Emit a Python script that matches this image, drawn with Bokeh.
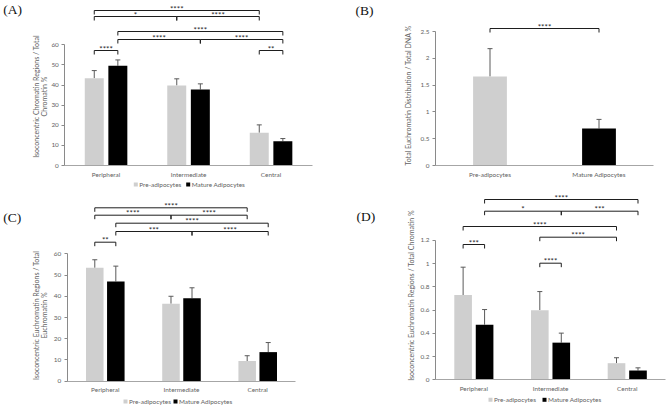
import math

from bokeh.core.properties import value
from bokeh.embed import file_html
from bokeh.layouts import column, row
from bokeh.models import (ColumnDataSource, FixedTicker, Label, PrintfTickFormatter,
                          Range1d, TeeHead, Whisker)
from bokeh.plotting import figure
from bokeh.resources import INLINE

# ---------------------------------------------------------------- data
regions = ["Peripheral", "Intermediate", "Central"]
cell_types = ["Pre-adipocytes", "Mature Adipocytes"]

# (A) isoconcentric chromatin regions / total chromatin (%)
a_pre = [43.4, 39.8, 16.3]
a_pre_err = [3.8, 3.3, 3.9]
a_mature = [49.6, 37.8, 12.1]
a_mature_err = [2.9, 2.8, 1.3]

# (B) total euchromatin distribution / total DNA (%)
b_mean = [1.66, 0.69]
b_err = [0.52, 0.17]

# (C) isoconcentric euchromatin regions / total euchromatin (%)
c_pre = [53.4, 36.5, 9.5]
c_pre_err = [3.8, 3.5, 2.5]
c_mature = [47.0, 39.1, 13.7]
c_mature_err = [7.2, 4.9, 4.5]

# (D) isoconcentric euchromatin regions / total chromatin (%)
d_pre = [0.73, 0.60, 0.143]
d_pre_err = [0.24, 0.16, 0.047]
d_mature = [0.475, 0.32, 0.08]
d_mature_err = [0.13, 0.082, 0.023]

# significance comparisons: (bar i, bar j, stars)
# bars are numbered region by region: 0 Peripheral pre, 1 Peripheral mature,
# 2 Intermediate pre, 3 Intermediate mature, 4 Central pre, 5 Central mature
a_sig = [(0, 4, "****"), (0, 2, "*"), (2, 4, "****"), (1, 5, "****"),
         (1, 3, "****"), (3, 5, "****"), (0, 1, "****"), (4, 5, "**")]
b_sig = [(0, 1, "****")]
c_sig = [(0, 4, "****"), (0, 2, "****"), (2, 4, "****"), (1, 5, "****"),
         (1, 3, "***"), (3, 5, "****"), (0, 1, "**")]
d_sig = [(1, 5, "****"), (1, 3, "*"), (3, 5, "***"), (0, 4, "****"),
         (2, 4, "****"), (0, 1, "***"), (2, 3, "****")]

# ---------------------------------------------------------------- layout (page pixels)
# bracket rows, as page y of each bracket's horizontal line
a_rows = [10, 16, 16, 31, 39, 39, 50, 50]
b_rows = [28]
c_rows = [207.3, 214.7, 214.7, 222.7, 231, 231, 241.7]
d_rows = [199, 210.7, 210.7, 226, 236.7, 244, 262.7]

FONT = "Lato"
TXT = "#626262"
PRE_COLOR = "#cfcfcf"
MAT_COLOR = "#000000"
ERR_COLOR = "#5a5a5a"
FS = "6.4px"


class Panel:
    """One chart cell: page box, position of the value axis and the scales."""

    def __init__(self, box, axis_x, zero_y, px_cat, px_unit, n_cat, y_max, yticks, fmt=None):
        self.x0, self.y0, self.w, self.h = box
        self.axis_x, self.zero_y = axis_x, zero_y
        self.px_cat, self.px_unit = px_cat, px_unit
        x_start, x_end = self.dx(self.x0), self.dx(self.x0 + self.w)
        y_start, y_end = self.dy(self.y0 + self.h), self.dy(self.y0)
        p = figure(width=self.w, height=self.h,
                   x_range=Range1d(x_start, x_end), y_range=Range1d(y_start, y_end),
                   output_backend="svg", toolbar_location=None,
                   min_border_left=0, min_border_right=0,
                   min_border_top=0, min_border_bottom=0)
        p.title.visible = False
        p.outline_line_color = None
        p.xgrid.visible = False
        p.ygrid.visible = False

        ya = p.yaxis[0]
        ya.fixed_location = -0.5
        ya.ticker = FixedTicker(ticks=yticks)
        ya.bounds = (0, y_max)
        ya.axis_line_color = "#8a8a8a"
        ya.major_tick_line_color = "#8a8a8a"
        ya.major_tick_out = 3
        ya.major_tick_in = 0
        ya.minor_tick_out = 0
        ya.minor_tick_in = 0
        ya.major_label_standoff = 3
        ya.major_label_text_font = FONT
        ya.major_label_text_font_size = FS
        ya.major_label_text_color = TXT
        if fmt is not None:
            ya.formatter = fmt

        xa = p.xaxis[0]
        xa.fixed_location = 0
        xa.ticker = FixedTicker(ticks=list(range(n_cat)))
        xa.bounds = (-0.5, n_cat - 0.5)
        xa.axis_line_color = "#a6a6a6"
        xa.major_tick_line_color = None
        xa.major_tick_out = 0
        xa.major_tick_in = 0
        xa.minor_tick_out = 0
        xa.minor_tick_in = 0
        xa.major_label_standoff = 5
        xa.major_label_text_font = FONT
        xa.major_label_text_font_size = FS
        xa.major_label_text_color = TXT
        self.p = p

    # page pixel -> data
    def dx(self, px):
        return (px - self.axis_x) / self.px_cat - 0.5

    def dy(self, py):
        return (self.zero_y - py) / self.px_unit


def error_bars(p, xs, means, errs):
    src = ColumnDataSource(dict(x=xs, lower=means,
                                upper=[m + e for m, e in zip(means, errs)]))
    p.add_layout(Whisker(source=src, base="x", lower="lower", upper="upper",
                         dimension="height", line_color=ERR_COLOR, line_width=1,
                         upper_head=TeeHead(size=5, line_color=ERR_COLOR, line_width=1),
                         lower_head=None))


def grouped_bars(pn, pre, pre_err, mat, mat_err, offset, width, legend_at):
    p = pn.p
    xs_pre = [i - offset for i in range(len(regions))]
    xs_mat = [i + offset for i in range(len(regions))]
    p.vbar(x=xs_pre, top=pre, width=width, fill_color=PRE_COLOR, line_color=None)
    p.vbar(x=xs_mat, top=mat, width=width, fill_color=MAT_COLOR, line_color=None)
    error_bars(p, xs_pre, pre, pre_err)
    error_bars(p, xs_mat, mat, mat_err)
    p.xaxis[0].major_label_overrides = {i: name for i, name in enumerate(regions)}

    # key below the category labels
    (sq1, sq2), ly = legend_at
    sx = [pn.dx(sq1), pn.dx(sq2)]
    sy = [pn.dy(ly)] * 2
    p.scatter(sx, sy, marker="square", size=4, fill_color=[PRE_COLOR, MAT_COLOR],
              line_color=None)
    p.text([pn.dx(sq1 + 3.5), pn.dx(sq2 + 3.5)], sy, text=cell_types, text_align="left",
           text_baseline="middle", text_font=value(FONT), text_font_size=FS,
           text_color=TXT)

    bar_x = []
    for a, b in zip(xs_pre, xs_mat):
        bar_x += [a, b]
    return bar_x


def brackets(pn, bar_x, sig, rows, drop_px=4):
    lx, ly, tx, ty, tt = [], [], [], [], []
    for (i, j, stars), ry in zip(sig, rows):
        x0, x1 = bar_x[i], bar_x[j]
        top, foot = pn.dy(ry), pn.dy(ry + drop_px)
        lx.append([x0, x0, x1, x1])
        ly.append([foot, top, top, foot])
        tx.append((x0 + x1) / 2)
        ty.append(top)
        tt.append(stars)
    pn.p.multi_line(lx, ly, line_color="#1e1e1e", line_width=1)
    pn.p.text(tx, ty, text=tt, text_align="center", text_baseline="middle",
              y_offset=-2, text_font=value(FONT), text_font_size="8px",
              text_color="#1e1e1e")


def y_title(pn, lines, xs, cy):
    for text, x in zip(lines, xs):
        pn.p.add_layout(Label(x=pn.dx(x), y=pn.dy(cy), text=text, angle=math.pi / 2,
                              text_align="center", text_baseline="middle",
                              text_font=FONT, text_font_size="7px", text_color=TXT))


def panel_tag(pn, tag, x, cy):
    pn.p.add_layout(Label(x=pn.dx(x), y=pn.dy(cy), text=tag,
                          text_align="left", text_baseline="middle",
                          text_font="Liberation Serif", text_font_size="13.5px",
                          text_color="#111111"))


# ---------------------------------------------------------------- (A)
A = Panel((0, 0, 333, 188), 64.3, 165, 82.5, 2.011, 3, 60, [0, 10, 20, 30, 40, 50, 60])
bx = grouped_bars(A, a_pre, a_pre_err, a_mature, a_mature_err, 0.143, 0.23,
                  ((135.3, 187.7), 184))
brackets(A, bx, a_sig, a_rows)
y_title(A, ["Isoconcentric Chromatin Regions / Total", "Chromatin %"], [35, 43.5], 96)
panel_tag(A, "(A)", 2.7, 8.7)

# ---------------------------------------------------------------- (B)
B = Panel((333, 0, 334, 188), 435, 165, 109, 53.6, 2, 2.5, [0, 0.5, 1, 1.5, 2, 2.5],
          PrintfTickFormatter(format="%g"))
B.p.vbar(x=[0, 1], top=b_mean, width=0.31, fill_color=[PRE_COLOR, MAT_COLOR],
         line_color=None)
error_bars(B.p, [0, 1], b_mean, b_err)
B.p.xaxis[0].major_label_overrides = {i: name for i, name in enumerate(cell_types)}
brackets(B, [0, 1], b_sig, b_rows)
y_title(B, ["Total Euchromatin Distribution / Total DNA %"], [407.5], 95)
panel_tag(B, "(B)", 355, 10)

# ---------------------------------------------------------------- (C)
C = Panel((0, 188, 333, 218), 66.7, 380.7, 76.2, 2.123, 3, 60, [0, 10, 20, 30, 40, 50, 60])
bx = grouped_bars(C, c_pre, c_pre_err, c_mature, c_mature_err, 0.138, 0.23,
                  ((125, 175), 401))
brackets(C, bx, c_sig, c_rows)
y_title(C, ["Isoconcentric Euchromatin Regions / Total", "Euchromatin %"], [35, 43.5], 315)
panel_tag(C, "(C)", 2.7, 216.7)

# ---------------------------------------------------------------- (D)
D = Panel((333, 188, 334, 218), 435, 379.3, 76.7, 116.1, 3, 1.2,
          [0, 0.2, 0.4, 0.6, 0.8, 1.0, 1.2], PrintfTickFormatter(format="%g"))
bx = grouped_bars(D, d_pre, d_pre_err, d_mature, d_mature_err, 0.14, 0.23,
                  ((490, 544), 399.3))
brackets(D, bx, d_sig, d_rows)
y_title(D, ["Isoconcentric Euchromatin Regions / Total Chromatin %"], [410.5], 295)
panel_tag(D, "(D)", 356, 215.7)

page = column(row(A.p, B.p), row(C.p, D.p))
open("out.html", "w").write(file_html(page, INLINE))
